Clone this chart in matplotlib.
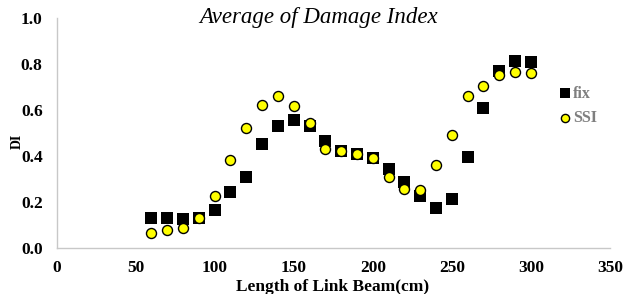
import matplotlib
matplotlib.use("Agg")
import matplotlib.pyplot as plt

length_cm = [60, 70, 80, 90, 100, 110, 120, 130, 140, 150, 160, 170, 180, 190, 200,
             210, 220, 230, 240, 250, 260, 270, 280, 290, 300]
di_fix = [0.13, 0.13, 0.125, 0.13, 0.165, 0.245, 0.31, 0.452, 0.53, 0.557, 0.53, 0.467,
          0.423, 0.41, 0.39, 0.342, 0.286, 0.225, 0.173, 0.212, 0.397, 0.61, 0.77, 0.813, 0.81]
di_ssi = [0.067, 0.078, 0.086, 0.13, 0.226, 0.381, 0.523, 0.62, 0.66, 0.617, 0.542, 0.43,
          0.423, 0.409, 0.39, 0.31, 0.255, 0.252, 0.361, 0.491, 0.661, 0.706, 0.752, 0.767, 0.76]
x_ticks = [0, 50, 100, 150, 200, 250, 300, 350]
y_ticks = [0.0, 0.2, 0.4, 0.6, 0.8, 1.0]

serif = "Liberation Serif"
W, H = 638, 294

fig = plt.figure(figsize=(6.38, 2.94), dpi=100)
ax = fig.add_axes([0.0886, 0.1565, 0.956 - 0.0886, 0.939 - 0.1565])

ax.scatter(length_cm, di_fix, marker="s", s=66, color="black", zorder=3, label="fix", linewidths=0)
ax.scatter(length_cm, di_ssi, marker="o", s=52, facecolor="#FFFF00", edgecolor="black",
           linewidths=1.0, zorder=4, label="SSI")

ax.set_xlim(0, 350)
ax.set_ylim(0, 1.0)
ax.set_xticks(x_ticks)
ax.set_yticks(y_ticks)
ax.set_xticklabels([str(v) for v in x_ticks], fontfamily=serif, fontweight="bold", fontsize=12.5)
ax.set_yticklabels([f"{v:.1f}" for v in y_ticks], fontfamily=serif, fontweight="bold", fontsize=12.5)
ax.tick_params(axis="x", length=0, pad=9)
ax.tick_params(axis="y", length=0, pad=10)

for s in ["top", "right"]:
    ax.spines[s].set_visible(False)
for s in ["left", "bottom"]:
    ax.spines[s].set_color("#C8C8C8")
    ax.spines[s].set_linewidth(1.0)

fig.text(333 / W, 1 - 279 / H, "Length of Link Beam(cm)", fontfamily=serif, fontweight="bold",
         fontsize=12.5, ha="center", va="top")
fig.text(17 / W, 1 - 141 / H, "DI", fontfamily=serif, fontweight="bold",
         fontsize=10, ha="center", va="center", rotation=90)

fig.text(318.5 / W, 1 - 17.5 / H, "Average of Damage Index", fontfamily=serif, fontstyle="italic",
         fontsize=16.5, ha="center", va="center")

leg = ax.legend(loc="center left", bbox_to_anchor=((561 - 56.5) / (610 - 56.5), (248 - 106) / 230),
                frameon=False, handlelength=0.5, handletextpad=0.25, labelspacing=0.55,
                markerscale=0.82,
                prop={"family": serif, "weight": "bold", "size": 11.5}, borderaxespad=0,
                borderpad=0)
for t in leg.get_texts():
    t.set_color("#7F7F7F")

fig.savefig("out.png", dpi=100)
